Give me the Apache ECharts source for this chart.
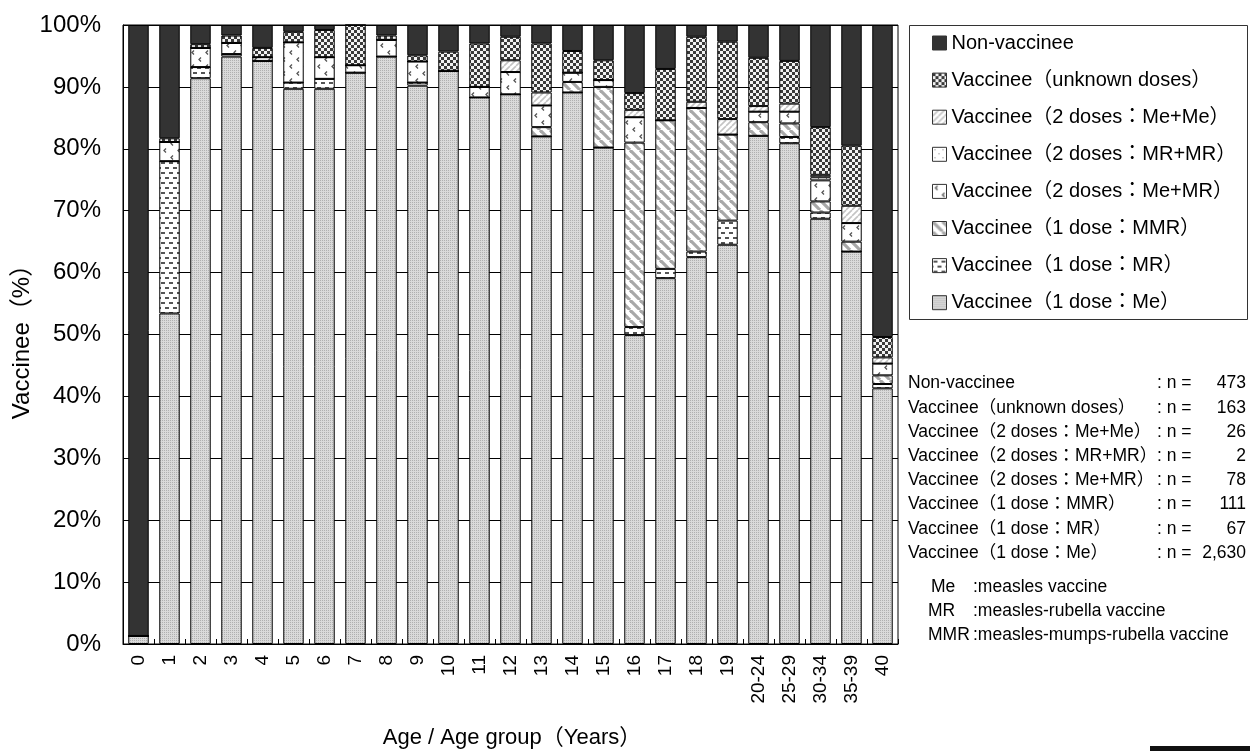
<!DOCTYPE html>
<html><head><meta charset="utf-8">
<script src="https://cdn.jsdelivr.net/npm/echarts@6/dist/echarts.min.js"></script>
<style>html,body{margin:0;padding:0;background:#fff}#c{width:1252px;height:751px}</style>
</head><body><div id="c"></div>
<script>
// ---------- data ----------
const categories = ['0','1','2','3','4','5','6','7','8','9','10','11','12','13','14','15','16','17','18','19','20-24','25-29','30-34','35-39','40'];
const meOne        = [1.3,53.4,91.4,94.9,94.2,89.7,89.7,92.3,94.9,90.2,92.6,88.3,88.8,82.0,89.1,80.2,49.9,59.1,62.5,64.5,82.1,80.9,68.7,63.4,41.3];
const mrOne        = [0,24.6,1.8,0.4,0,1.0,1.6,0,0,0.5,0,0,0,0,0,0,1.3,1.5,0.9,3.9,0,1.0,1.0,0,0.7];
const mmrOne       = [0,0,0,0,0,0,0,0,0,0,0,0,0,1.5,1.7,9.8,29.8,24.0,23.2,13.9,2.2,2.2,1.8,1.6,1.4];
const meMr         = [0,3.1,3.1,1.8,0.6,6.5,3.5,1.2,2.7,3.4,0,1.7,3.6,3.5,1.5,1.1,4.1,0,0,0,1.7,1.9,3.4,3.0,1.9];
const mrMr         = [0,0,0,0,0,0,0,0,0,0,0,0,0,0,0,0,0,0,0,0,0,0,0.5,0,0];
const meMe         = [0,0,0,0,0,0,0,0,0,0,0,0,1.9,2.1,0,0,1.2,0,1.0,2.5,0.9,1.3,0.4,2.8,1.0];
const unknownDoses = [0,0.6,0.6,1.2,1.5,1.7,4.4,6.5,0.7,1.0,3.1,7.0,3.8,7.9,3.5,3.2,2.7,8.3,10.5,12.5,7.8,6.9,7.7,9.7,3.3];
const nonVaccinee  = [98.7,18.3,3.1,1.7,3.7,1.1,0.8,0,1.7,4.9,4.3,3.0,1.9,3.0,4.2,5.7,11.0,7.1,1.9,2.7,5.3,5.8,16.5,19.5,50.4];

const seriesNames = [
  'Vaccinee（1 dose：Me）',
  'Vaccinee（1 dose：MR）',
  'Vaccinee（1 dose：MMR）',
  'Vaccinee（2 doses：Me+MR）',
  'Vaccinee（2 doses：MR+MR）',
  'Vaccinee（2 doses：Me+Me）',
  'Vaccinee（unknown doses）',
  'Non-vaccinee'
];
const statLabels = ['Non-vaccinee','Vaccinee（unknown doses）','Vaccinee（2 doses：Me+Me）','Vaccinee（2 doses：MR+MR）','Vaccinee（2 doses：Me+MR）','Vaccinee（1 dose：MMR）','Vaccinee（1 dose：MR）','Vaccinee（1 dose：Me）'];
const statN = ['473','163','26','2','78','111','67','2,630'];
const abbrevKeys = ['Me','MR','MMR'];
const abbrevText = [':measles vaccine',':measles-rubella vaccine',':measles-mumps-rubella vaccine'];

// ---------- patterns ----------
function makePattern(w, h, draw) {
  const c = document.createElement('canvas');
  c.width = w; c.height = h;
  const g = c.getContext('2d');
  draw(g, w, h);
  return { image: c, repeat: 'repeat' };
}
const patMe = makePattern(2, 2, (g) => {
  g.fillStyle = '#dadada'; g.fillRect(0,0,2,2);
  g.fillStyle = '#b0b0b0'; g.fillRect(0,0,1,1);
});
const patMR = makePattern(8, 10, (g) => {
  g.fillStyle = '#ffffff'; g.fillRect(0,0,8,10);
  g.fillStyle = '#555555';
  g.fillRect(1,2,4,2); g.fillRect(5,7,4,2); g.fillRect(-3,7,4,2);
});
const patMMR = makePattern(10, 10, (g) => {
  g.fillStyle = '#ffffff'; g.fillRect(0,0,10,10);
  g.strokeStyle = '#a8a8a8'; g.lineWidth = 3.2;
  for (const o of [-10, 0, 10]) { g.beginPath(); g.moveTo(o, 0); g.lineTo(o + 10, 10); g.stroke(); }
});
const patMeMR = makePattern(14, 14, (g) => {
  g.fillStyle = '#ffffff'; g.fillRect(0,0,14,14);
  g.strokeStyle = '#555555'; g.lineWidth = 1.3;
  g.beginPath(); g.moveTo(5,1.5); g.lineTo(3,3.5); g.lineTo(5,5.5); g.stroke();
  g.beginPath(); g.moveTo(12,8.5); g.lineTo(10,10.5); g.lineTo(12,12.5); g.stroke();
});
const patMRMR = makePattern(8, 8, (g) => {
  g.fillStyle = '#ffffff'; g.fillRect(0,0,8,8);
  g.fillStyle = '#777777'; g.fillRect(2,2,1,1); g.fillRect(6,6,1,1);
});
const patMeMe = makePattern(6, 6, (g) => {
  g.fillStyle = '#ffffff'; g.fillRect(0,0,6,6);
  g.strokeStyle = '#c4c4c4'; g.lineWidth = 1.6;
  for (const o of [-6, 0, 6]) { g.beginPath(); g.moveTo(o, 6); g.lineTo(o + 6, 0); g.stroke(); }
});
const patUnknown = makePattern(6, 6, (g) => {
  g.fillStyle = '#f2f2f2'; g.fillRect(0,0,6,6);
  g.fillStyle = '#3a3a3a'; g.fillRect(0,0,3,3); g.fillRect(3,3,3,3);
});
const colNon = '#333333';

const seriesData = [meOne, mrOne, mmrOne, meMr, mrMr, meMe, unknownDoses, nonVaccinee];
const seriesFill = [patMe, patMR, patMMR, patMeMR, patMRMR, patMeMe, patUnknown, colNon];

const FONT = "'Liberation Sans', 'Noto Sans CJK JP', Arial, sans-serif";

const series = seriesNames.map((name, i) => ({
  name: name,
  type: 'bar',
  stack: 'total',
  barWidth: '66%',
  data: seriesData[i],
  itemStyle: { color: seriesFill[i], borderColor: '#000', borderWidth: 1 },
  emphasis: { disabled: true }
}));

// ---------- graphics ----------
const graphics = [];
graphics.push({ type: 'rect', shape: { x: 909.5, y: 25.5, width: 338, height: 294 }, style: { fill: 'none', stroke: '#333', lineWidth: 1 }, silent: true });
const statY0 = 383.5, statStep = 24.2;
statLabels.forEach((lab, i) => {
  const y = statY0 + i * statStep;
  graphics.push({ type: 'text', x: 908, y: y, style: { text: lab, font: '17.5px ' + FONT, fill: '#000', textVerticalAlign: 'middle', textAlign: 'left' }, silent: true });
  graphics.push({ type: 'text', x: 1157, y: y, style: { text: ': n =', font: '17.5px ' + FONT, fill: '#000', textVerticalAlign: 'middle', textAlign: 'left' }, silent: true });
  graphics.push({ type: 'text', x: 1246, y: y, style: { text: statN[i], font: '17.5px ' + FONT, fill: '#000', textVerticalAlign: 'middle', textAlign: 'right' }, silent: true });
});
const abY = [586.7, 611.5, 635.3];
abbrevKeys.forEach((k, i) => {
  graphics.push({ type: 'text', x: k === 'Me' ? 931 : 928, y: abY[i], style: { text: k, font: '17.5px ' + FONT, fill: '#000', textVerticalAlign: 'middle', textAlign: 'left' }, silent: true });
  graphics.push({ type: 'text', x: 973, y: abY[i], style: { text: abbrevText[i], font: '17.5px ' + FONT, fill: '#000', textVerticalAlign: 'middle', textAlign: 'left' }, silent: true });
});
graphics.push({ type: 'text', x: 512, y: 738, style: { text: 'Age / Age group（Years）', font: '22px ' + FONT, fill: '#000', textAlign: 'center', textVerticalAlign: 'middle' }, silent: true });
graphics.push({ type: 'text', x: 22, y: 336, rotation: Math.PI / 2, style: { text: 'Vaccinee（%）', font: '24px ' + FONT, fill: '#000', textAlign: 'center', textVerticalAlign: 'middle' }, silent: true });
graphics.push({ type: 'rect', shape: { x: 1150, y: 746, width: 100, height: 5 }, style: { fill: '#111' }, silent: true });

const chart = echarts.init(document.getElementById('c'), null, { renderer: 'canvas' });
chart.setOption({
  animation: false,
  backgroundColor: '#ffffff',
  textStyle: { fontFamily: FONT },
  grid: { left: 123, right: 354, top: 25, bottom: 107, show: true, borderColor: '#000', borderWidth: 1, containLabel: false },
  legend: {
    data: seriesNames.slice().reverse(),
    orient: 'vertical',
    icon: 'rect',
    left: 932, top: 33,
    itemWidth: 14, itemHeight: 14, itemGap: 17.1,
    padding: 0,
    selectedMode: false,
    itemStyle: { borderColor: '#333', borderWidth: 1 },
    textStyle: { fontSize: 20, lineHeight: 20, color: '#000', fontFamily: FONT }
  },
  xAxis: {
    type: 'category',
    data: categories,
    axisLine: { lineStyle: { color: '#000', width: 1 } },
    axisTick: { show: true, inside: true, length: 5, lineStyle: { color: '#000' } },
    axisLabel: { rotate: 90, interval: 0, fontSize: 19, color: '#000', margin: 11, fontFamily: FONT },
    splitLine: { show: false }
  },
  yAxis: {
    type: 'value',
    min: 0, max: 100, interval: 10,
    axisLine: { show: true, lineStyle: { color: '#000', width: 1 } },
    axisTick: { show: false },
    axisLabel: { formatter: '{value}%', fontSize: 24, color: '#000', margin: 22, fontFamily: FONT },
    splitLine: { show: true, lineStyle: { color: '#000', width: 1 } }
  },
  series: series,
  graphic: graphics
});
</script></body></html>
